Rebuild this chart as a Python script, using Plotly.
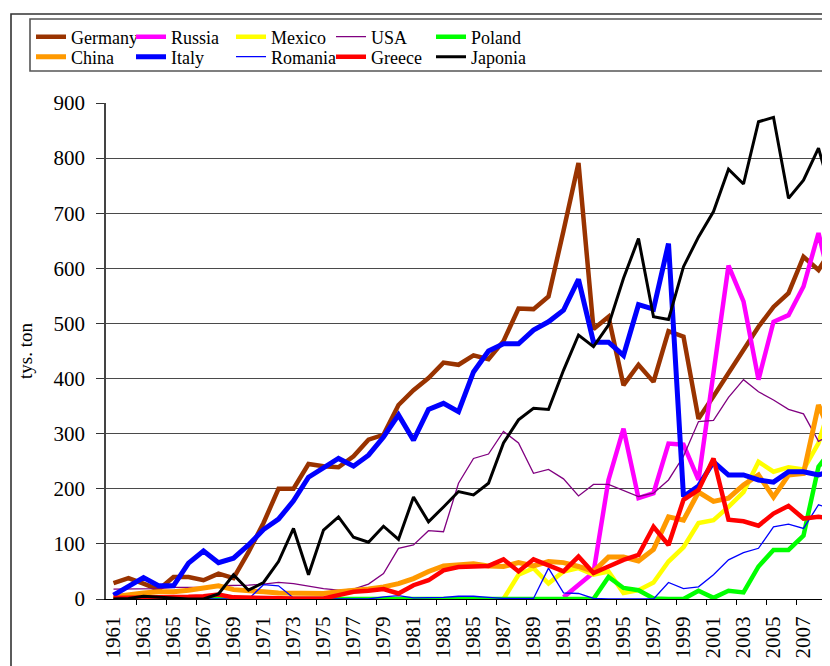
import plotly.graph_objects as go

years = list(range(1961, 2010))

germany = [29, 38, 28, 17, 40, 40, 34, 46, 38, 85, 138, 200, 200, 245, 241, 239, 259, 289, 298, 352,
           379, 401, 429, 425, 442, 435, 468, 527, 526, 549, 668, 791, 490, 512, 388, 425, 394, 486, 476, 327,
           368, 410, 450, 494, 530, 555, 621, 597, 640]
russia = [None] * 30 + [3, 25, 48, 216, 309, 183, 192, 282, 280, 216, 410, 605, 540, 398, 503, 515, 567, 664, 550]
mexico = [None] * 26 + [0, 44, 56, 28, 50, 56, 44, 50, 11, 16, 30, 68, 94, 138, 143, 167, 194, 249, 231, 239, 235, 283, 370]
usa = [18, 18, 18, 19, 21, 21, 21, 24, 24, 25, 27, 30, 28, 23, 19, 16, 18, 27, 46, 92,
       98, 124, 122, 210, 255, 263, 304, 283, 228, 235, 218, 187, 208, 208, 197, 186, 192, 216, 259, 322,
       324, 366, 398, 376, 361, 344, 336, 286, 300]
poland = [0] * 33 + [40, 20, 16, 1, 0, 0, 15, 2, 15, 12, 59, 89, 89, 115, 240, 275]
china = [4, 8, 11, 13, 13, 16, 20, 24, 17, 16, 13, 11, 10, 10, 10, 13, 15, 18, 22, 28,
         37, 50, 60, 62, 64, 60, 59, 66, 60, 68, 66, 59, 50, 76, 76, 69, 90, 149, 143, 194,
         177, 183, 207, 225, 185, 225, 228, 352, 290]
italy = [7, 22, 39, 24, 24, 65, 87, 66, 74, 98, 126, 145, 178, 221, 237, 255, 241, 261, 294, 334,
         288, 344, 355, 340, 412, 450, 463, 463, 488, 503, 524, 580, 466, 466, 442, 534, 526, 645, 186, 205,
         249, 225, 225, 216, 212, 231, 231, 225, 233]
romania = [0, 0, 0, 0, 0, 0, 0, 0, 0, 0, 26, 24, 2, 0, 0, 0, 0, 0, 4, 6,
           2, 2, 3, 5, 5, 3, 1, 1, 1, 56, 11, 10, 1, 0, 0, 0, 0, 30, 19, 22,
           44, 71, 84, 92, 131, 136, 128, 171, 162]
greece = [2, 2, 3, 3, 3, 4, 5, 8, 3, 2, 2, 1, 1, 1, 1, 7, 13, 15, 18, 10,
          25, 34, 52, 58, 59, 60, 72, 50, 72, 62, 50, 77, 47, 59, 71, 80, 131, 98, 180, 198,
          255, 144, 141, 133, 155, 169, 146, 149, 147]
japonia = [0, 1, 5, 3, 1, 0, 0, 9, 44, 16, 30, 68, 128, 44, 125, 149, 112, 103, 132, 108,
           185, 140, 167, 195, 189, 210, 283, 325, 346, 344, 415, 479, 458, 497, 582, 654, 512, 507, 603, 657,
           703, 780, 753, 866, 874, 727, 760, 818, 722]

y_ticks = list(range(0, 1000, 100))
x_tick_years = list(range(1961, 2010, 2))
x_tick_labels = [str(y) for y in x_tick_years]
x_minor_ticks = [y + 1.5 for y in range(1961, 2008, 2)]

FONT = "Liberation Serif"

# (name, values, color, width, legend)
series = [
    ("Germany", germany, "#993300", 4.5, "legend"),
    ("Russia", russia, "#FF00FF", 4.5, "legend"),
    ("Mexico", mexico, "#FFFF00", 4.5, "legend"),
    ("USA", usa, "#800080", 1.3, "legend"),
    ("Poland", poland, "#00FF00", 4.5, "legend"),
    ("China", china, "#FF9900", 5, "legend2"),
    ("Italy", italy, "#0000FF", 5, "legend2"),
    ("Romania", romania, "#0000FF", 1.3, "legend2"),
    ("Greece", greece, "#FF0000", 4.5, "legend2"),
    ("Japonia", japonia, "#000000", 3, "legend2"),
]

fig = go.Figure()
for name, vals, color, width, leg in series:
    fig.add_trace(go.Scatter(
        x=years, y=vals, name=name, mode="lines",
        line=dict(color=color, width=width),
        legend=leg, connectgaps=False,
    ))

# page body adds an 8px offset; figure is sized to fill the rest of the window
OFF = 8
W, H = 830 - OFF, 666 - OFF
L, R, T, B = 106 - OFF, 0, 103 - OFF, H - (599 - OFF)
pw, ph = W - L - R, H - T - B


def px_x(p):
    return (p - OFF - L) / pw


def px_y(p):
    return (H - B - (p - OFF)) / ph


legend_common = dict(
    orientation="h", xref="container", yref="container",
    xanchor="left", yanchor="middle", entrywidth=55, entrywidthmode="pixels",
    itemwidth=30, font=dict(family=FONT, size=18, color="black"),
    bgcolor="rgba(0,0,0,0)", borderwidth=0, traceorder="normal",
)

fig.update_layout(
    width=W, height=H,
    margin=dict(l=L, r=R, t=T, b=B, autoexpand=False),
    paper_bgcolor="white", plot_bgcolor="white",
    font=dict(family=FONT, color="black"),
    showlegend=True,
    legend=dict(legend_common, x=(31 - OFF) / W, y=1 - (37 - OFF) / H),
    legend2=dict(legend_common, x=(31 - OFF) / W, y=1 - (57 - OFF) / H),
    xaxis=dict(
        range=[1960.5, 1960.5 + pw / 15.0],
        tickmode="array", tickvals=x_tick_years, ticktext=x_tick_labels,
        tickangle=-90, ticks="", tickfont=dict(family=FONT, size=21, color="black"),
        ticklabelstandoff=8,
        showgrid=False, zeroline=False,
        showline=True, linecolor="black", linewidth=1.2,
        minor=dict(tickmode="array", tickvals=x_minor_ticks, ticks="outside",
                   ticklen=5, tickwidth=1.2, tickcolor="black", showgrid=False),
        automargin=False,
    ),
    yaxis=dict(
        range=[0, 900], tickmode="array", tickvals=y_ticks,
        ticks="outside", ticklen=8, tickwidth=1.2, tickcolor="#333",
        tickfont=dict(family=FONT, size=21, color="black"),
        ticklabelstandoff=7,
        showgrid=True, gridcolor="#4a4a4a", gridwidth=1.2,
        zeroline=False, showline=True, linecolor="#444", linewidth=1.6,
        title=dict(text="tys. ton", font=dict(family=FONT, size=19, color="black"), standoff=16),
        automargin=False,
    ),
    shapes=[
        dict(type="rect", xref="paper", yref="paper",
             x0=px_x(11), x1=1.3, y0=px_y(14), y1=-0.4,
             line=dict(color="#333", width=1.6), fillcolor="rgba(0,0,0,0)", layer="below"),
        dict(type="rect", xref="paper", yref="paper",
             x0=px_x(30), x1=1.3, y0=px_y(71), y1=px_y(19),
             line=dict(color="#555", width=1.6), fillcolor="rgba(0,0,0,0)", layer="below"),
    ],
    annotations=[
        dict(text="2009", xref="paper", yref="paper", x=px_x(833.5), y=px_y(612),
             xanchor="center", yanchor="top", textangle=-90, showarrow=False,
             font=dict(family=FONT, size=21, color="black")),
    ],
)

fig.write_html("out.html")
